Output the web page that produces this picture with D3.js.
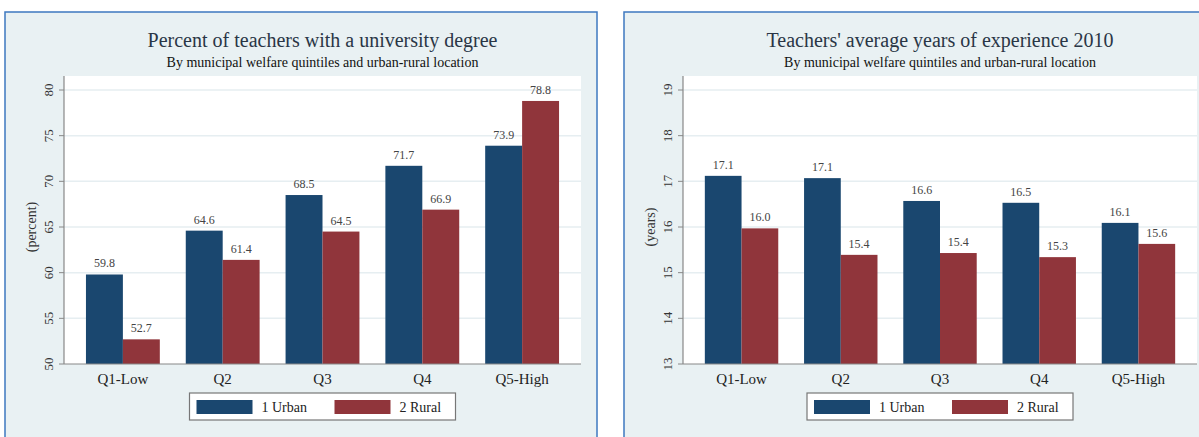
<!DOCTYPE html>
<html>
<head>
<meta charset="utf-8">
<script src="https://cdn.jsdelivr.net/npm/d3@7"></script>
<style>
  body { margin: 0; background: #fff; }
  text { font-family: "Liberation Serif", "DejaVu Serif", serif; }
</style>
</head>
<body>
<div id="graphic"></div>
<script>
// categories and series
const categories = ["Q1-Low", "Q2", "Q3", "Q4", "Q5-High"];
const seriesNames = ["1 Urban", "2 Rural"];

// left chart: percent with a university degree
const degreeUrban = [59.8, 64.6, 68.5, 71.7, 73.9];
const degreeRural = [52.7, 61.4, 64.5, 66.9, 78.8];
const degreeTicks = [50, 55, 60, 65, 70, 75, 80];

// right chart: average years of experience
const expUrban = [17.12, 17.07, 16.57, 16.53, 16.09];
const expRural = [15.97, 15.39, 15.43, 15.34, 15.63];
const expTicks = [13, 14, 15, 16, 17, 18, 19];

const colors = ["#1a476f", "#90353b"];

const svg = d3.select("#graphic").append("svg")
    .attr("width", 1199)
    .attr("height", 437);

function drawPanel(cfg) {
    var g = svg.append("g");

    // panel background + border
    g.append("rect")
        .attr("x", cfg.px).attr("y", 12)
        .attr("width", cfg.pw).attr("height", 440)
        .attr("fill", "#e9f1f3")
        .attr("stroke", "#3e78c0")
        .attr("stroke-width", 1.5);

    var x0 = d3.scaleBand().domain(categories)
        .range([cfg.left, cfg.right])
        .paddingInner(0.26).paddingOuter(0.22);
    var x1 = d3.scaleBand().domain(seriesNames)
        .range([0, x0.bandwidth()]);
    var y = d3.scaleLinear().domain(cfg.domain).range([364, 90]);

    var mid = (cfg.left + cfg.right) / 2;

    // titles
    g.append("text").attr("x", mid).attr("y", 47)
        .attr("text-anchor", "middle")
        .attr("font-size", 20).attr("fill", "#2a3646")
        .text(cfg.title);
    g.append("text").attr("x", mid).attr("y", 67)
        .attr("text-anchor", "middle")
        .attr("font-size", 14).attr("fill", "#111")
        .text("By municipal welfare quintiles and urban-rural location");

    // plot region
    g.append("rect")
        .attr("x", cfg.left).attr("y", 76)
        .attr("width", cfg.right - cfg.left).attr("height", 364 - 76)
        .attr("fill", "#fff");

    // grid
    g.selectAll(".grid").data(cfg.ticks.slice(1)).enter().append("line")
        .attr("x1", cfg.left).attr("x2", cfg.right)
        .attr("y1", d => y(d)).attr("y2", d => y(d))
        .attr("stroke", "#e6eef1").attr("stroke-width", 1.5);

    // bars
    var rows = categories.map((c, i) => ({ cat: c, vals: [cfg.a[i], cfg.b[i]] }));
    var grp = g.selectAll(".grp").data(rows).enter().append("g")
        .attr("transform", d => "translate(" + x0(d.cat) + ",0)");

    grp.selectAll("rect").data(d => d.vals.map((v, j) => ({ s: seriesNames[j], v: v, j: j })))
        .enter().append("rect")
        .attr("x", d => x1(d.s))
        .attr("y", d => y(d.v))
        .attr("width", x1.bandwidth())
        .attr("height", d => 364 - y(d.v))
        .attr("fill", d => colors[d.j]);

    grp.selectAll("text").data(d => d.vals.map((v, j) => ({ s: seriesNames[j], v: v })))
        .enter().append("text")
        .attr("x", d => x1(d.s) + x1.bandwidth() / 2)
        .attr("y", d => y(d.v) - 7)
        .attr("text-anchor", "middle")
        .attr("font-size", 12).attr("fill", "#444")
        .text(d => d3.format(".1f")(d.v));

    // axes
    g.append("line").attr("x1", cfg.left).attr("x2", cfg.left)
        .attr("y1", 76).attr("y2", 364)
        .attr("stroke", "#888").attr("stroke-width", 1.2);
    g.append("line").attr("x1", cfg.left).attr("x2", cfg.right)
        .attr("y1", 364).attr("y2", 364)
        .attr("stroke", "#888").attr("stroke-width", 1.2);

    g.selectAll(".tick").data(cfg.ticks).enter().append("line")
        .attr("x1", cfg.left - 5).attr("x2", cfg.left)
        .attr("y1", d => y(d)).attr("y2", d => y(d))
        .attr("stroke", "#888");
    g.selectAll(".tlab").data(cfg.ticks).enter().append("text")
        .attr("transform", d => "translate(" + (cfg.left - 11) + "," + y(d) + ") rotate(-90)")
        .attr("text-anchor", "middle")
        .attr("font-size", 13).attr("fill", "#333")
        .text(d => d);

    g.append("text")
        .attr("transform", "translate(" + (cfg.left - 28) + "," + 227 + ") rotate(-90)")
        .attr("text-anchor", "middle")
        .attr("font-size", 14).attr("fill", "#333")
        .text(cfg.ylab);

    g.selectAll(".xlab").data(categories).enter().append("text")
        .attr("x", d => x0(d) + x0.bandwidth() / 2)
        .attr("y", 384)
        .attr("text-anchor", "middle")
        .attr("font-size", 15).attr("fill", "#222")
        .text(d => d);

    // legend
    var lx = mid - 133;
    g.append("rect").attr("x", lx).attr("y", 393)
        .attr("width", 266).attr("height", 27)
        .attr("fill", "#fff").attr("stroke", "#777").attr("stroke-width", 1.2);
    seriesNames.forEach(function(s, j) {
        g.append("rect").attr("x", lx + 7 + j * 138).attr("y", 400)
            .attr("width", 56).attr("height", 14)
            .attr("fill", colors[j]);
        g.append("text").attr("x", lx + 72 + j * 138).attr("y", 412)
            .attr("font-size", 14).attr("fill", "#222")
            .text(s);
    });
}

drawPanel({
    px: 5, pw: 592, left: 64, right: 581,
    domain: [50, 80], ticks: degreeTicks,
    a: degreeUrban, b: degreeRural,
    title: "Percent of teachers with a university degree",
    ylab: "(percent)"
});

drawPanel({
    px: 624, pw: 600, left: 683, right: 1197,
    domain: [13, 19], ticks: expTicks,
    a: expUrban, b: expRural,
    title: "Teachers' average years of experience 2010",
    ylab: "(years)"
});
</script>
</body>
</html>
